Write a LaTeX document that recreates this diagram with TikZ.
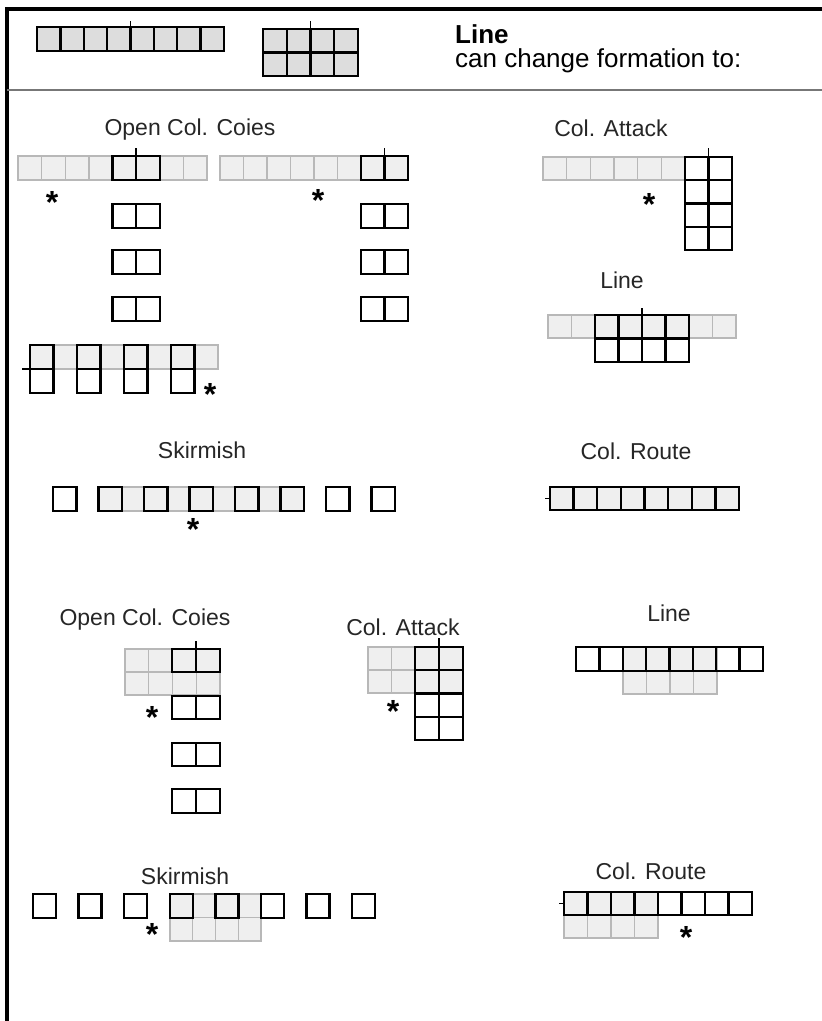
\documentclass[tikz,border=0pt]{standalone}
\usepackage{fontspec}
\setmainfont{Liberation Sans}
\definecolor{lightfill}{HTML}{EFEFEF}
\definecolor{lightline}{HTML}{B8B8B8}
\definecolor{headfill}{HTML}{DDDDDD}
\definecolor{framegray}{HTML}{777777}
\newcommand\cellblock[7]{%
  \draw[#1] (#2,#3) rectangle (#4,#5);
  \foreach \ci in {1,...,#6}{\ifnum\ci<#6\relax \draw[#1,fill=none] ({#2+(#4-#2)*\ci/#6},#3) -- ({#2+(#4-#2)*\ci/#6},#5);\fi}
  \foreach \cj in {1,...,#7}{\ifnum\cj<#7\relax \draw[#1,fill=none] (#2,{#3+(#5-#3)*\cj/#7}) -- (#4,{#3+(#5-#3)*\cj/#7});\fi}
}
\tikzset{
  lightcell/.style={fill=lightfill,draw=lightline,line width=1.4pt},
  darkcell/.style={draw=black,line width=2.3pt},
  darkfilled/.style={draw=black,fill=lightfill,line width=2.3pt},
  headcell/.style={draw=black,fill=headfill,line width=2.3pt},
  tickline/.style={draw=black,line width=1.6pt},
  title/.style={font=\fontsize{23}{26}\selectfont,anchor=base,inner sep=0pt,text=black!85},
  starmark/.style={font=\bfseries\fontsize{32}{32}\selectfont,anchor=north,inner sep=0pt},
  headtext/.style={font=\fontsize{26}{28}\selectfont,anchor=base west,inner sep=0pt}
}
\begin{document}
\begin{tikzpicture}[x=1pt,y=-1pt]
\useasboundingbox (0,0) rectangle (822,1021);
% frame
\draw[line width=4pt] (7,1021) -- (7,9) -- (822,9);
\draw[framegray,line width=1.5pt] (7,90) -- (822,90);
% header
\cellblock{headcell}{37}{27}{224}{51}{8}{1}
\draw[tickline] (130.5,27) -- (130.5,21);
\cellblock{headcell}{263}{29}{358}{76}{4}{2}
\draw[tickline] (310.5,29) -- (310.5,21);
\node[headtext] (hline) at (455,43) {\bfseries Line};
\node[headtext] (hcan) at (455,67) {can change formation to:};
% --- Open Col. Coies (top)
\node[title] (t1) at (190,135) {Open Col. Coies};
\cellblock{lightcell}{18}{156}{207}{180}{8}{1}
\cellblock{darkcell}{112.5}{156}{159.75}{180}{2}{1}
\draw[tickline] (136,156) -- (136,148);
\node[starmark] (s1) at (52,191) {*};
\cellblock{darkcell}{112.5}{204}{159.75}{228}{2}{1}
\cellblock{darkcell}{112.5}{250}{159.75}{274}{2}{1}
\cellblock{darkcell}{112.5}{297}{159.75}{321}{2}{1}
\cellblock{lightcell}{220}{156}{408}{180}{8}{1}
\cellblock{darkcell}{361}{156}{408}{180}{2}{1}
\draw[tickline] (384.5,156) -- (384.5,148);
\node[starmark] (s2) at (318,189) {*};
\cellblock{darkcell}{361}{204}{408}{228}{2}{1}
\cellblock{darkcell}{361}{250}{408}{274}{2}{1}
\cellblock{darkcell}{361}{297}{408}{321}{2}{1}
% bottom variant
\cellblock{lightcell}{30}{345}{218}{369}{8}{1}
\foreach \xx in {30,77,124,171}{\cellblock{darkcell}{\xx}{345}{\xx+23.5}{393}{1}{2}}
\draw[tickline] (22,369) -- (30,369);
\node[starmark] (s3) at (210,383) {*};
% --- Col. Attack (top)
\node[title] (t2) at (611,136) {Col. Attack};
\cellblock{lightcell}{543}{157}{685}{180}{6}{1}
\cellblock{darkcell}{685}{157}{732}{250}{2}{4}
\draw[tickline] (708.5,157) -- (708.5,148);
\node[starmark] (s4) at (649,193) {*};
% --- Line (top right)
\node[title] (t3) at (622,288) {Line};
\cellblock{lightcell}{548}{315}{736}{338}{8}{1}
\cellblock{darkcell}{595}{315}{689}{362}{4}{2}
\draw[tickline] (642,315) -- (642,308);
% --- Skirmish (top)
\node[title] (t4) at (202,458) {Skirmish};
\cellblock{lightcell}{98.5}{487}{304}{511}{1}{1}
\foreach \xx in {53,98.5,144,189.5,235,280.5,326,371.5}{\cellblock{darkcell}{\xx}{487}{\xx+23.5}{511}{1}{1}}
\node[starmark] (s5) at (193,518) {*};
% --- Col. Route (top)
\node[title] (t5) at (636,459) {Col. Route};
\cellblock{darkfilled}{550}{487}{739}{510}{8}{1}
\draw[tickline] (545,498.5) -- (550,498.5);
% --- Open Col. Coies (bottom)
\node[title] (t6) at (145,625) {Open Col. Coies};
\cellblock{lightcell}{125}{649}{220}{695}{4}{2}
\cellblock{darkcell}{172}{649}{220}{672}{2}{1}
\draw[tickline] (196,649) -- (196,641);
\cellblock{darkcell}{172}{696}{220}{719}{2}{1}
\cellblock{darkcell}{172}{743}{220}{766}{2}{1}
\cellblock{darkcell}{172}{789}{220}{813}{2}{1}
\node[starmark] (s6) at (152,706) {*};
% --- Col. Attack (bottom)
\node[title] (t7) at (403,635) {Col. Attack};
\cellblock{lightcell}{368}{647}{463}{693}{4}{2}
\cellblock{darkcell}{415}{647}{463}{740}{2}{4}
\draw[tickline] (439,647) -- (439,638);
\node[starmark] (s7) at (393,700) {*};
% --- Line (bottom right)
\node[title] (t8) at (669,621) {Line};
\cellblock{lightcell}{623}{647}{717}{694}{4}{2}
\cellblock{darkcell}{576}{647}{763}{671}{8}{1}
% --- Skirmish (bottom)
\node[title] (t9) at (185,884) {Skirmish};
\cellblock{lightcell}{169.8}{894}{261}{941}{4}{2}
\foreach \xx in {33,78.6,124.2,169.8,215.4,261,306.6,352.2}{\cellblock{darkcell}{\xx}{894}{\xx+23}{918}{1}{1}}
\node[starmark] (s8) at (152,923) {*};
% --- Col. Route (bottom)
\node[title] (t10) at (651,879) {Col. Route};
\cellblock{lightcell}{564}{892}{658}{938}{4}{2}
\cellblock{darkcell}{564}{892}{752}{915}{8}{1}
\draw[tickline] (559,903.5) -- (564,903.5);
\node[starmark] (s9) at (686,926) {*};
\end{tikzpicture}
\end{document}
